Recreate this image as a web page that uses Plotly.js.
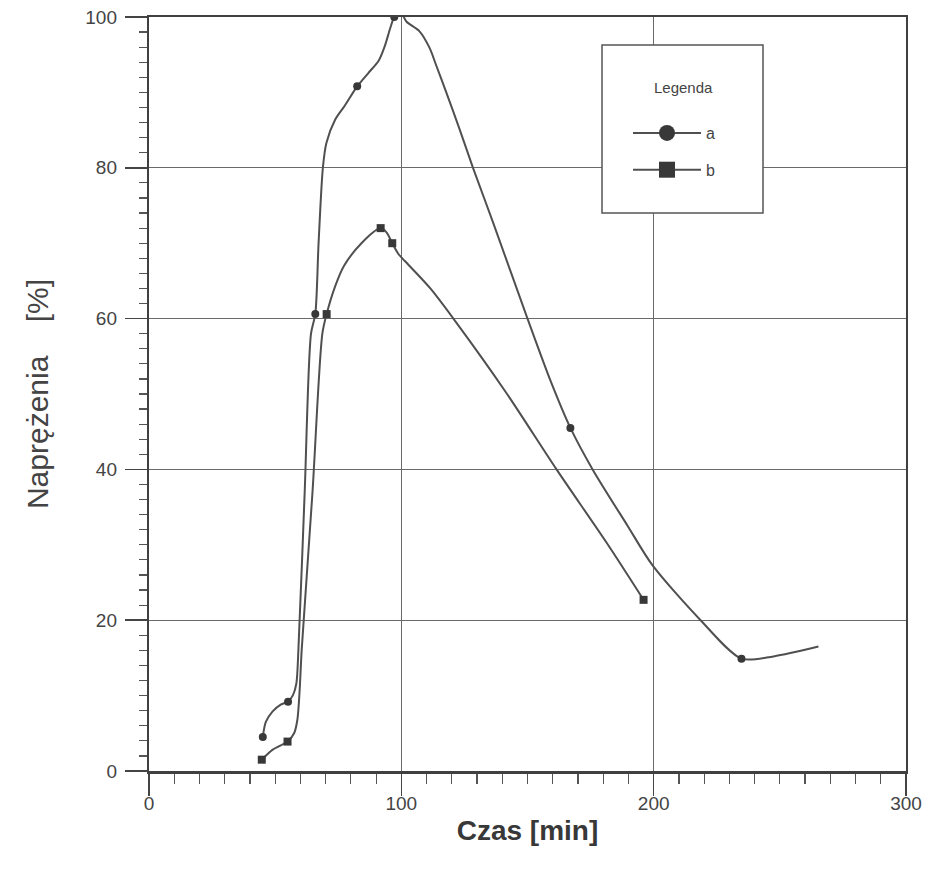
<!DOCTYPE html>
<html><head><meta charset="utf-8">
<script src="https://cdn.plot.ly/plotly-3.0.1.min.js"></script>
<style>html,body{margin:0;padding:0;background:#fff}</style>
</head><body><div id="chart" style="width:933px;height:876px"></div>
<script>
// Measured points (markers)
const seriesNames = ['a', 'b'];
const aX = [45.1, 55.1, 65.9, 82.5, 97.2, 167, 234.8];
const aY = [4.5, 9.2, 60.6, 90.8, 100, 45.5, 14.9];
const bX = [44.7, 54.9, 70.4, 91.8, 96.4, 196];
const bY = [1.5, 3.9, 60.6, 72, 70, 22.7];

// Drawn curve paths
const aCurveX = [45.1, 46.3, 49, 52.2, 55.1, 57.1, 58.4, 59.2, 61.7, 64.2, 65.9, 67.2, 68.9, 70.3, 73.8, 77.5, 82.5, 87, 91, 93.5, 95.5, 97.2, 99.5, 102, 107.2, 111.2, 113.8, 117.7, 123, 128.4, 136.3, 150, 159.3, 167, 175.8, 189.7, 199.5, 218.6, 234.8, 247.5, 265.3];
const aCurveY = [4.5, 6.5, 7.9, 8.8, 9.2, 10.1, 11.6, 16, 37, 58, 60.6, 70, 80, 83.3, 86.4, 88.2, 90.8, 92.6, 94.2, 96.2, 98.4, 100, 100.8, 99.4, 98.1, 95.9, 93.6, 90.1, 85.2, 80, 72.8, 60, 51.6, 45.5, 40, 32.5, 27.3, 20, 14.9, 15.2, 16.5];
const bCurveX = [44.7, 48.9, 52.2, 54.9, 57.5, 58.8, 59.7, 60.5, 64.8, 68.7, 70.4, 73.8, 77.3, 84.2, 91.8, 94.2, 96.4, 99, 101.5, 111.5, 121.5, 141.5, 161.5, 181.5, 196];
const bCurveY = [1.5, 2.8, 3.4, 3.9, 5.0, 6.8, 10.7, 16, 37, 58, 60.6, 64.3, 67, 70, 72, 71.4, 70, 68.5, 67.6, 64, 59.6, 50.2, 40, 30.2, 22.7];

const xTickVals = [0, 100, 200, 300];
const yTickVals = [0, 20, 40, 60, 80, 100];
const xTitle = '<b>Czas [min]</b>';
const yTitle = 'Naprężenia\u00a0\u00a0\u00a0\u00a0[%]';
const legendTitle = 'Legenda';

const lineColor = '#505050';
const markColor = '#383838';
const FONT = 'Liberation Sans, Arial, Helvetica, sans-serif';

const traces = [
  {x: aCurveX, y: aCurveY, mode: 'lines', line: {color: lineColor, width: 2, shape: 'spline', smoothing: 0.8}, showlegend: false, hoverinfo: 'skip', legendgroup: 'a'},
  {x: bCurveX, y: bCurveY, mode: 'lines', line: {color: lineColor, width: 2, shape: 'spline', smoothing: 0.8}, showlegend: false, hoverinfo: 'skip', legendgroup: 'b'},
  {x: aX, y: aY, mode: 'markers', marker: {symbol: 'circle', size: 8, color: markColor}, showlegend: false, name: seriesNames[0], legendgroup: 'a'},
  {x: bX, y: bY, mode: 'markers', marker: {symbol: 'square', size: 8, color: markColor}, showlegend: false, name: seriesNames[1], legendgroup: 'b'},
  {x: [null], y: [null], mode: 'lines+markers', name: seriesNames[0], legendgroup: 'a', line: {color: lineColor, width: 2}, marker: {symbol: 'circle', size: 16, color: markColor}},
  {x: [null], y: [null], mode: 'lines+markers', name: seriesNames[1], legendgroup: 'b', line: {color: lineColor, width: 2}, marker: {symbol: 'square', size: 16, color: markColor}}
];

const L = 149, R = 906, T = 17, B = 771;
const px2x = p => (p - L) / (R - L);
const py2y = p => (B - p) / (B - T);

const layout = {
  width: 933, height: 876,
  margin: {l: L, r: 933 - R, t: T, b: 876 - B},
  paper_bgcolor: '#fff', plot_bgcolor: '#fff',
  font: {family: FONT, color: '#444'},
  showlegend: true,
  xaxis: {
    range: [0, 300], tickvals: xTickVals, ticktext: xTickVals.map(String),
    ticks: 'outside', ticklen: 22, tickwidth: 1.5, tickcolor: '#444',
    showline: true, linecolor: '#404040', linewidth: 2.5, mirror: true,
    showgrid: true, gridcolor: '#6a6a6a', gridwidth: 1.2, zeroline: false,
    tickfont: {size: 19, color: '#444'}, ticklabelstandoff: -8,
    minor: {dtick: 10, tick0: 0, ticks: 'outside', ticklen: 10, tickwidth: 1.2, tickcolor: '#555', showgrid: false},
    title: {text: xTitle, font: {size: 28, color: '#383838'}, standoff: 7},
    fixedrange: true
  },
  yaxis: {
    range: [0, 100], tickvals: yTickVals, ticktext: yTickVals.map(String),
    ticks: 'outside', ticklen: 22, tickwidth: 1.5, tickcolor: '#444',
    showline: true, linecolor: '#404040', linewidth: 2.2, mirror: true,
    showgrid: true, gridcolor: '#6a6a6a', gridwidth: 1.2, zeroline: false,
    tickfont: {size: 19, color: '#444'}, ticklabelstandoff: 4,
    minor: {dtick: 2, tick0: 0, ticks: 'outside', ticklen: 8, tickwidth: 1.2, tickcolor: '#555', showgrid: false},
    title: {text: yTitle, font: {size: 30, color: '#444'}, standoff: 28},
    fixedrange: true
  },
  shapes: [{
    type: 'rect', xref: 'paper', yref: 'paper',
    x0: px2x(602), x1: px2x(763), y0: py2y(213), y1: py2y(45),
    fillcolor: '#fff', line: {color: '#555', width: 1.5}, layer: 'above'
  }],
  annotations: [{
    text: legendTitle, xref: 'paper', yref: 'paper', x: px2x(683), y: py2y(88),
    xanchor: 'center', yanchor: 'middle', showarrow: false,
    font: {size: 15, color: '#444', family: FONT}
  }],
  legend: {
    x: px2x(628), xanchor: 'left', y: py2y(116), yanchor: 'top',
    bgcolor: 'rgba(0,0,0,0)', borderwidth: 0,
    font: {size: 16, color: '#444', family: FONT},
    tracegroupgap: 13, itemwidth: 68
  }
};

Plotly.newPlot('chart', traces, layout, {displayModeBar: false, staticPlot: true});
</script>
</body></html>
